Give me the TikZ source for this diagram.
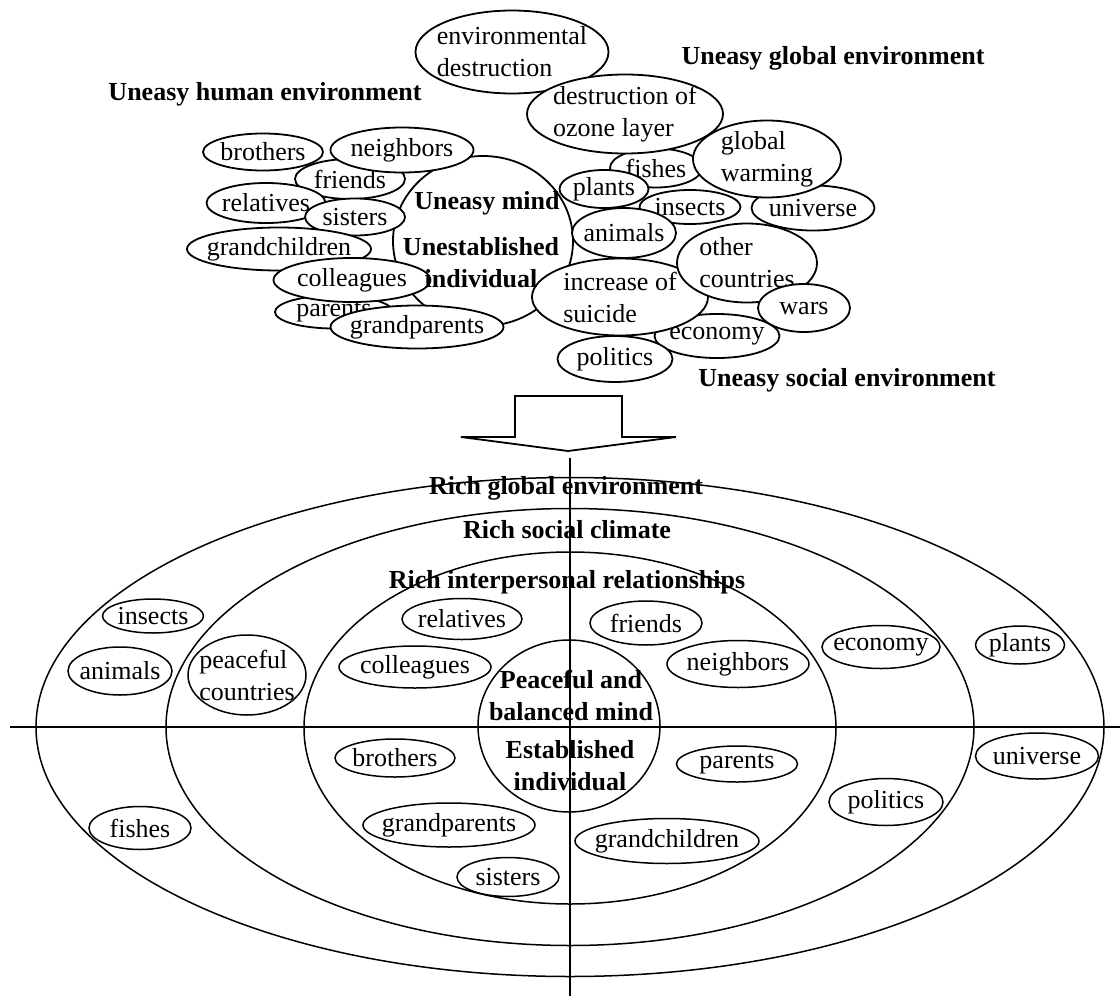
\documentclass[tikz,border=0pt]{standalone}
\usepackage{fontspec}
\setmainfont{Liberation Serif}
\usepackage{tikz}
\usetikzlibrary{shapes.geometric}

\newcommand{\txtsize}{\fontsize{26}{32}\selectfont}

\begin{document}
\begin{tikzpicture}[x=1pt, y=-1pt,
        every node/.style={font=\txtsize},
        oval/.style={draw, ellipse, line width=1.8pt, fill=white, align=left, inner sep=-12pt},
        ring/.style={draw, ellipse, line width=1.5pt, align=left, inner sep=-12pt},
        head/.style={font=\txtsize\bfseries, align=center}]
                \useasboundingbox (0, 0) rectangle (1120, 996);

                % uneasy side
                \node[oval, minimum width=180, minimum height=170] (core) at (483, 241) {};
                \node[oval, minimum width=193, minimum height=83] (env) at (512, 52) {environmental\\destruction};
                \node[oval, minimum width=92, minimum height=39] (fishA) at (656, 168) {fishes};
                \node[oval, minimum width=196, minimum height=79] (ozone) at (625, 114) {destruction of\\ozone layer};
                \node[oval, minimum width=101, minimum height=34] (insA) at (690, 207) {insects};
                \node[oval, minimum width=123, minimum height=45] (uniA) at (813, 208) {universe};
                \node[oval, minimum width=148, minimum height=77] (warm) at (767, 159) {global\\warming};
                \node[oval, minimum width=89, minimum height=38] (plantA) at (604, 189) {plants};
                \node[oval, minimum width=104, minimum height=50] (animA) at (624, 233) {animals};
                \node[oval, minimum width=125, minimum height=44] (econA) at (717, 336) {economy};
                \node[oval, minimum width=176, minimum height=77] (suic) at (620, 297) {increase of\\suicide};
                \node[oval, minimum width=140, minimum height=79] (other) at (747, 263) {other\\countries};
                \node[oval, minimum width=92, minimum height=48] (wars) at (804, 308) {wars};
                \node[oval, minimum width=115, minimum height=46] (polA) at (615, 359) {politics};
                \node[oval, minimum width=120, minimum height=37] (broA) at (263, 152) {brothers};
                \node[oval, minimum width=110, minimum height=40] (friA) at (350, 179) {friends};
                \node[oval, minimum width=143, minimum height=45] (neiA) at (402, 150) {neighbors};
                \node[oval, minimum width=119, minimum height=40] (relA) at (266, 203) {relatives};
                \node[oval, minimum width=100, minimum height=37] (sisA) at (355, 217) {sisters};
                \node[oval, minimum width=184, minimum height=43] (gchA) at (279, 249) {grandchildren};
                \node[oval, minimum width=118, minimum height=33] (parA) at (334, 312) {parents};
                \node[oval, minimum width=157, minimum height=44] (colA) at (352, 280) {colleagues};
                \node[oval, minimum width=173, minimum height=43] (gpaA) at (417, 327) {grandparents};

                \node[head] (mind) at (487, 203) {Uneasy mind};
                \node[head] (self) at (481, 263) {Unestablished\\individual};
                \node[head] (human) at (265, 94) {Uneasy human environment};
                \node[head] (globe) at (833, 58) {Uneasy global environment};
                \node[head] (society) at (847, 380) {Uneasy social environment};

                % draw the big arrow
                \draw[line width=1.8pt] (515, 396) -- (622, 396) -- (622, 437) -- (676, 437)
                    -- (568, 451) -- (461, 437) -- (515, 437) -- cycle;

                % rich side
                \node[ring, minimum width=1068, minimum height=499] (world) at (570, 727) {};
                \node[ring, minimum width=808, minimum height=437] (social) at (570, 727) {};
                \node[ring, minimum width=532, minimum height=352] (inter) at (570, 728) {};
                \node[ring, minimum width=182, minimum height=172] (calm) at (569, 726) {};

                % draw the axes
                \coordinate (west) at (10, 727);
                \coordinate (east) at (1120, 727);
                \coordinate (north) at (570, 458);
                \coordinate (south) at (570, 996);
                \draw[line width=1.5pt] (west) -- (east);
                \draw[line width=1.5pt] (north) -- (south);

                \node[ring, minimum width=101, minimum height=34] (insB) at (153, 616) {insects};
                \node[ring, minimum width=104, minimum height=48] (animB) at (120, 671) {animals};
                \node[ring, minimum width=118, minimum height=80] (peace) at (247, 675) {peaceful\\countries};
                \node[ring, minimum width=102, minimum height=43] (fishB) at (140, 828) {fishes};
                \node[ring, minimum width=120, minimum height=41] (relB) at (462, 619) {relatives};
                \node[ring, minimum width=152, minimum height=42] (colB) at (415, 667) {colleagues};
                \node[ring, minimum width=112, minimum height=44] (friB) at (646, 623) {friends};
                \node[ring, minimum width=142, minimum height=47] (neiB) at (738, 664) {neighbors};
                \node[ring, minimum width=120, minimum height=38] (broB) at (395, 758) {brothers};
                \node[ring, minimum width=121, minimum height=36] (parB) at (737, 764) {parents};
                \node[ring, minimum width=172, minimum height=44] (gpaB) at (449, 825) {grandparents};
                \node[ring, minimum width=184, minimum height=45] (gchB) at (667, 841) {grandchildren};
                \node[ring, minimum width=102, minimum height=39] (sisB) at (508, 877) {sisters};
                \node[ring, minimum width=118, minimum height=43] (econB) at (881, 647) {economy};
                \node[ring, minimum width=114, minimum height=47] (polB) at (886, 802) {politics};
                \node[ring, minimum width=89, minimum height=38] (plantB) at (1020, 645) {plants};
                \node[ring, minimum width=123, minimum height=46] (uniB) at (1037, 756) {universe};

                \node[head] (rglobe) at (566, 488) {Rich global environment};
                \node[head] (rsociety) at (567, 530) {Rich social climate};
                \node[head] (rhuman) at (567, 582) {Rich interpersonal relationships};
                \node[head] (balance) at (571, 695) {Peaceful and\\balanced mind};
                \node[head] (settled) at (570, 766) {Established\\individual};
            \end{tikzpicture}
\end{document}
